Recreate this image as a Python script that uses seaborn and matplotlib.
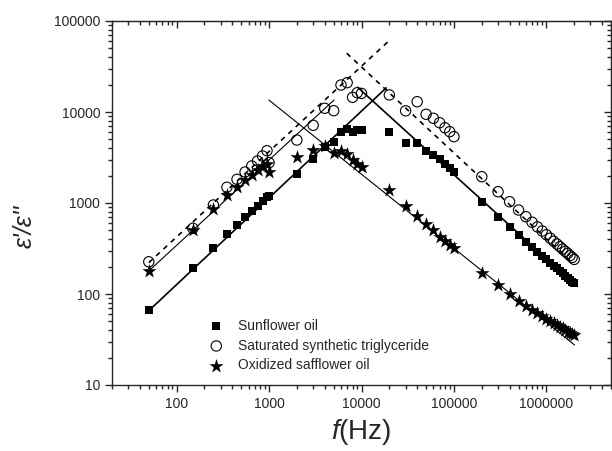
import matplotlib
matplotlib.use("Agg")
import matplotlib.pyplot as plt
import matplotlib.ticker as mticker
import seaborn as sns
import pandas as pd

# frequencies (Hz)
freq = [50, 150, 250, 350, 450, 550, 650, 750, 850, 950, 1000,
        2000, 3000, 4000, 5000, 6000, 7000, 8000, 9000, 10000,
        20000, 30000, 40000, 50000, 60000, 70000, 80000, 90000, 100000,
        200000, 300000, 400000, 500000, 600000, 700000, 800000, 900000, 1000000,
        1100000, 1200000, 1300000, 1400000, 1500000, 1600000, 1700000, 1800000,
        1900000, 2000000]

# eps'/eps''
sunflower = [66, 194, 318, 456, 569, 697, 811, 927, 1052, 1172, 1200,
             2080, 3050, 4090, 4640, 5980, 6500, 5980, 6340, 6340,
             5980, 4530, 4600, 3760, 3370, 3020, 2680, 2410, 2210,
             1030, 706, 550, 445, 376, 328, 292, 263, 240,
             221, 205, 191, 179, 168, 159, 151, 144, 137, 131]
triglyceride = [226, 527, 951, 1489, 1822, 2191, 2553, 2896, 3285, 3755, 2775,
                4920, 7140, 10990, 10330, 19800, 21000, 14500, 16300, 16000,
                15400, 10300, 12970, 9440, 8530, 7620, 6710, 6080, 5360,
                1945, 1330, 1033, 837, 707, 615, 546, 492, 448,
                411, 380, 354, 331, 311, 294, 279, 264, 252, 240]
safflower = [179, 505, 870, 1225, 1489, 1768, 2031, 2277, 2553, 2706, 2208,
             3180, 3820, 4230, 3520, 3760, 3430, 2970, 2690, 2470,
             1390, 927, 725, 587, 505, 423, 382, 345, 318,
             170, 124, 99, 84, 74, 67, 61.6, 57.3, 53.7,
             50.6, 48.0, 45.6, 43.6, 41.8, 40.1, 38.6, 37.3, 36.0, 35]

# straight-line fits (end points)
sun_up_f, sun_up_v = [50, 18500], [65.5, 18400]
sun_dn_f, sun_dn_v = [9080, 2000000], [18700, 129]
tri_up_f, tri_up_v = [50, 19900], [221, 60800]
tri_dn_f, tri_dn_v = [6920, 2000000], [44200, 210]
saf_up_f, saf_up_v = [50, 5050], [179, 13550]
saf_dn_f, saf_dn_v = [995, 2020000], [13550, 27.5]

df = pd.DataFrame({"f": freq, "sun": sunflower, "tri": triglyceride, "saf": safflower})

sns.set_style("ticks")
plt.rcParams["font.family"] = ["Liberation Sans", "DejaVu Sans"]
plt.rcParams["mathtext.fontset"] = "custom"
plt.rcParams["mathtext.it"] = "Liberation Sans:italic"
plt.rcParams["mathtext.rm"] = "Liberation Sans"

fig = plt.figure(figsize=(6.12, 4.51), dpi=100)
ax = fig.add_axes([112 / 612, 66 / 451, 499 / 612, 364 / 451])
ax.set_xscale("log")
ax.set_yscale("log")

# fit lines
sns.lineplot(x=sun_up_f, y=sun_up_v, ax=ax, color="black", lw=1.2, estimator=None)
sns.lineplot(x=sun_dn_f, y=sun_dn_v, ax=ax, color="black", lw=1.2, estimator=None)
sns.lineplot(x=tri_up_f, y=tri_up_v, ax=ax, color="black", lw=1.2, ls=(0, (3, 3)), estimator=None)
sns.lineplot(x=tri_dn_f, y=tri_dn_v, ax=ax, color="black", lw=1.2, ls=(0, (3, 3)), estimator=None)
sns.lineplot(x=saf_up_f, y=saf_up_v, ax=ax, color="black", lw=0.8, estimator=None)
sns.lineplot(x=saf_dn_f, y=saf_dn_v, ax=ax, color="black", lw=0.8, estimator=None)

# data points
sns.scatterplot(data=df, x="f", y="sun", ax=ax, marker="s", s=36, color="black",
                linewidth=0, label="Sunflower oil", zorder=3)
sns.scatterplot(data=df, x="f", y="tri", ax=ax, marker="o", s=55, facecolor="none",
                edgecolor="black", linewidth=0.8, label="Saturated synthetic triglyceride", zorder=3)
sns.scatterplot(data=df, x="f", y="saf", ax=ax, marker="*", s=115, color="black",
                linewidth=0, label="Oxidized safflower oil", zorder=3)

ax.set_xlim(20, 5e6)
ax.set_ylim(10, 1e5)

fmt = mticker.FuncFormatter(lambda v, p: f"{v:.0f}")
ax.xaxis.set_major_formatter(fmt)
ax.yaxis.set_major_formatter(fmt)
ax.xaxis.set_minor_formatter(mticker.NullFormatter())
ax.yaxis.set_minor_formatter(mticker.NullFormatter())
ax.tick_params(which="both", direction="out", top=False, right=False, labelsize=10, width=1)
ax.tick_params(which="major", length=5)
ax.tick_params(which="minor", length=3)
for sp in ax.spines.values():
    sp.set_linewidth(1)
    sp.set_visible(True)

# mirrored ticks pointing inward on top and right
top = ax.secondary_xaxis("top")
top.tick_params(which="both", direction="in", labeltop=False, width=1)
top.tick_params(which="major", length=5)
top.tick_params(which="minor", length=3)
right = ax.secondary_yaxis("right")
right.tick_params(which="both", direction="in", labelright=False, width=1)
right.tick_params(which="major", length=5)
right.tick_params(which="minor", length=3)

ax.set_xlabel(r"$f$(Hz)", fontsize=20)
ax.xaxis.set_label_coords(0.5, -0.088)
ax.set_ylabel("ε'/ε''", fontsize=18, style="italic")
ax.yaxis.set_label_coords(-0.152, 0.437)

leg = ax.legend(loc="lower left", bbox_to_anchor=(0.17, 0.02), frameon=False, fontsize=10,
                handletextpad=0.6, labelspacing=0.4, borderaxespad=0)

fig.savefig("out.png", dpi=100)
